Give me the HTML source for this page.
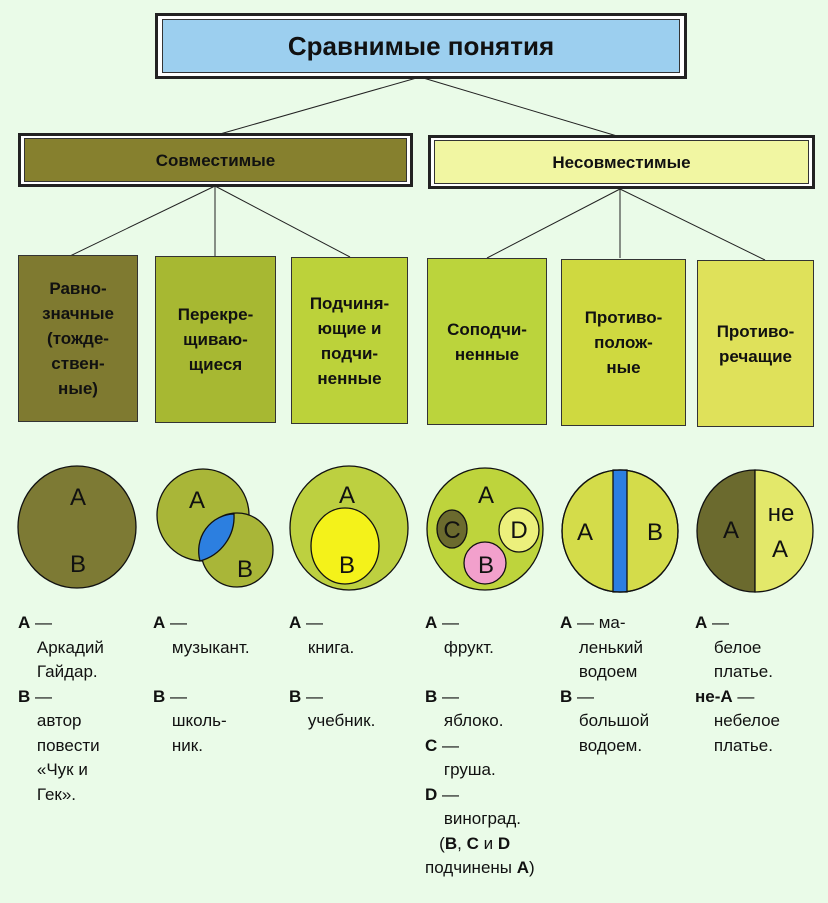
<!DOCTYPE html>
<html><head><meta charset="utf-8"><style>
body{margin:0;width:828px;height:903px;background:#eafbe8;position:relative;font-family:"Liberation Sans","DejaVu Sans",sans-serif;overflow:hidden}
.b{position:absolute;border:1.5px solid #333;box-sizing:border-box;display:flex;align-items:center;justify-content:center;text-align:center;font-weight:bold;font-size:17px;line-height:25px;color:#111}
.t{position:absolute;font-size:17px;line-height:24.5px;color:#111}
</style></head><body>
<svg width="828" height="903" style="position:absolute;left:0;top:0">
<g stroke="#222" stroke-width="1" fill="none">
<line x1="420" y1="77" x2="220" y2="134"/><line x1="420" y1="77" x2="617" y2="136"/>
<line x1="215" y1="186" x2="70" y2="256"/><line x1="215" y1="186" x2="215" y2="256"/><line x1="215" y1="186" x2="350" y2="257"/>
<line x1="620" y1="189" x2="487" y2="258"/><line x1="620" y1="189" x2="620" y2="258"/><line x1="620" y1="189" x2="765" y2="260"/>
</g>
<g stroke="#111" stroke-width="1.3">
<ellipse cx="77" cy="527" rx="59" ry="61" fill="#7d7a34"/>
<ellipse cx="203" cy="515" rx="46" ry="46" fill="#a9b638"/>
<ellipse cx="237" cy="550" rx="36" ry="37" fill="#a9b638"/>
<path d="M234 514 A46 46 0 0 1 200 561 A36 37 0 0 1 234 514Z" fill="#2c7fe0"/>
<ellipse cx="349" cy="528" rx="59" ry="62" fill="#bdd040"/>
<ellipse cx="345" cy="546" rx="34" ry="38" fill="#f4f21a"/>
<ellipse cx="485" cy="529" rx="58" ry="61" fill="#bed43c"/>
<ellipse cx="452" cy="529" rx="15" ry="19" fill="#6b6a2e"/>
<ellipse cx="519" cy="530" rx="20" ry="22" fill="#ecf07c"/>
<ellipse cx="485" cy="563" rx="21" ry="21" fill="#f2a0cc"/>
<ellipse cx="620" cy="531" rx="58" ry="61" fill="#d4dc4a"/>
<rect x="613" y="470" width="14" height="122" fill="#2c7fe0"/>
<ellipse cx="620" cy="531" rx="58" ry="61" fill="none"/>
<path d="M755 470 A58 61 0 0 0 755 592Z" fill="#6b6a2e"/>
<path d="M755 470 A58 61 0 0 1 755 592Z" fill="#e3e86a"/>
</g>
<g font-family="Liberation Sans,sans-serif" font-size="24" fill="#111" text-anchor="middle">
<text x="78" y="505">A</text><text x="78" y="572">B</text>
<text x="197" y="508">A</text><text x="245" y="577">B</text>
<text x="347" y="503">A</text><text x="347" y="573">B</text>
<text x="486" y="503">A</text><text x="452" y="538">C</text><text x="519" y="538">D</text><text x="486" y="573">B</text>
<text x="585" y="540">A</text><text x="655" y="540">B</text>
<text x="731" y="538">A</text><text x="781" y="521">не</text><text x="780" y="557">A</text>
</g>
</svg>
<div class="b" style="left:155px;top:13px;width:532px;height:66px;border:3px solid #222;background:#fff;padding:4px">
<div style="width:100%;height:100%;background:#9ccfef;border:1.5px solid #333;display:flex;align-items:center;justify-content:center;font-size:26px">Сравнимые понятия</div></div>
<div class="b" style="left:18px;top:133px;width:395px;height:54px;border:3px solid #222;background:#fff;padding:3px">
<div style="width:100%;height:100%;background:#86802e;border:1px solid #333;display:flex;align-items:center;justify-content:center">Совместимые</div></div>
<div class="b" style="left:428px;top:135px;width:387px;height:54px;border:3px solid #222;background:#fff;padding:3px">
<div style="width:100%;height:100%;background:#f1f6a2;border:1px solid #333;display:flex;align-items:center;justify-content:center">Несовместимые</div></div>
<div class="b" style="left:18px;top:255px;width:120px;height:167px;background:#7f7a30">Равно-<br>значные<br>(тожде-<br>ствен-<br>ные)</div>
<div class="b" style="left:155px;top:256px;width:121px;height:167px;background:#a7b832">Перекре-<br>щиваю-<br>щиеся</div>
<div class="b" style="left:291px;top:257px;width:117px;height:167px;background:#bcd23a">Подчиня-<br>ющие и<br>подчи-<br>ненные</div>
<div class="b" style="left:427px;top:258px;width:120px;height:167px;background:#bbd43c">Соподчи-<br>ненные</div>
<div class="b" style="left:561px;top:259px;width:125px;height:167px;background:#cfd940">Противо-<br>полож-<br>ные</div>
<div class="b" style="left:697px;top:260px;width:117px;height:167px;background:#dfe15a">Противо-<br>речащие</div>
<div class="t" style="left:18px;top:611px"><b>A</b> —<br>&nbsp;&nbsp;&nbsp;&nbsp;Аркадий<br>&nbsp;&nbsp;&nbsp;&nbsp;Гайдар.<br><b>B</b> —<br>&nbsp;&nbsp;&nbsp;&nbsp;автор<br>&nbsp;&nbsp;&nbsp;&nbsp;повести<br>&nbsp;&nbsp;&nbsp;&nbsp;«Чук и<br>&nbsp;&nbsp;&nbsp;&nbsp;Гек».</div>
<div class="t" style="left:153px;top:611px"><b>A</b> —<br>&nbsp;&nbsp;&nbsp;&nbsp;музыкант.<br><br><b>B</b> —<br>&nbsp;&nbsp;&nbsp;&nbsp;школь-<br>&nbsp;&nbsp;&nbsp;&nbsp;ник.</div>
<div class="t" style="left:289px;top:611px"><b>A</b> —<br>&nbsp;&nbsp;&nbsp;&nbsp;книга.<br><br><b>B</b> —<br>&nbsp;&nbsp;&nbsp;&nbsp;учебник.</div>
<div class="t" style="left:425px;top:611px"><b>A</b> —<br>&nbsp;&nbsp;&nbsp;&nbsp;фрукт.<br><br><b>B</b> —<br>&nbsp;&nbsp;&nbsp;&nbsp;яблоко.<br><b>C</b> —<br>&nbsp;&nbsp;&nbsp;&nbsp;груша.<br><b>D</b> —<br>&nbsp;&nbsp;&nbsp;&nbsp;виноград.<br>&nbsp;&nbsp;&nbsp;(<b>B</b>, <b>C</b> и <b>D</b><br>подчинены <b>A</b>)</div>
<div class="t" style="left:560px;top:611px"><b>A</b> — ма-<br>&nbsp;&nbsp;&nbsp;&nbsp;ленький<br>&nbsp;&nbsp;&nbsp;&nbsp;водоем<br><b>B</b> —<br>&nbsp;&nbsp;&nbsp;&nbsp;большой<br>&nbsp;&nbsp;&nbsp;&nbsp;водоем.</div>
<div class="t" style="left:695px;top:611px"><b>A</b> —<br>&nbsp;&nbsp;&nbsp;&nbsp;белое<br>&nbsp;&nbsp;&nbsp;&nbsp;платье.<br><b>не-A</b> —<br>&nbsp;&nbsp;&nbsp;&nbsp;небелое<br>&nbsp;&nbsp;&nbsp;&nbsp;платье.</div>
</body></html>
